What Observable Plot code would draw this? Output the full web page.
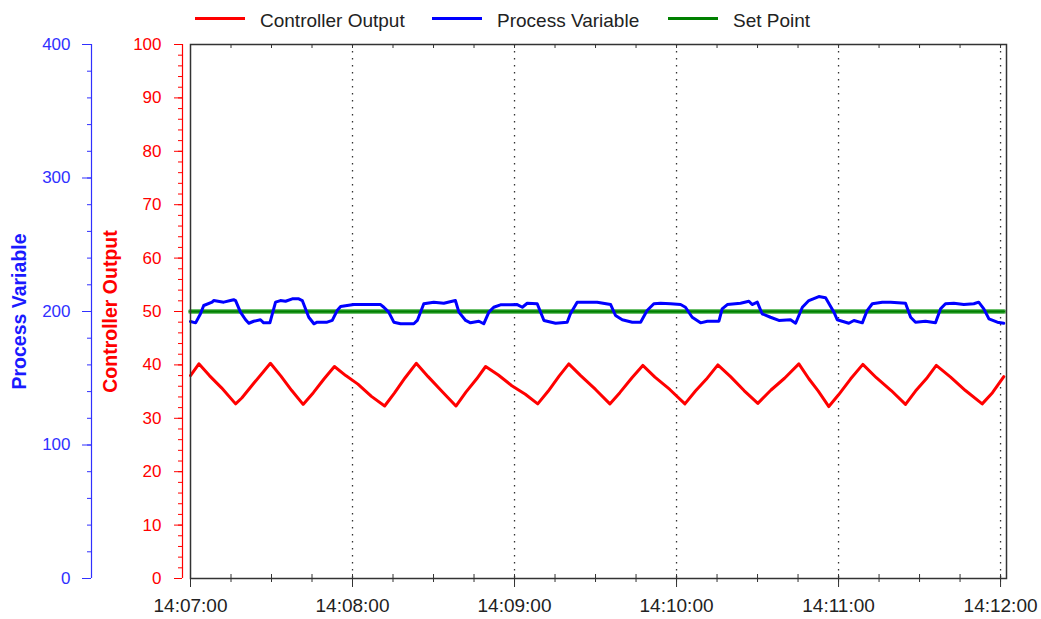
<!DOCTYPE html>
<html>
<head>
<meta charset="utf-8">
<script src="https://cdn.jsdelivr.net/npm/d3@7"></script>
<script src="https://cdn.jsdelivr.net/npm/@observablehq/plot@0.6"></script>
<style>
  html, body { margin: 0; padding: 0; background: #fff; }
  #wrap { position: relative; width: 1041px; height: 619px; font-family: "Liberation Sans", Arial, sans-serif; }
  #legend { position: absolute; left: 0; top: 0; }
  #chart { position: absolute; left: 0; top: 0; }
</style>
</head>
<body>
<div id="wrap"><div id="chart"></div><svg id="legend" width="1041" height="36"></svg></div>
<script>
// ---- Data (seconds after 14:07:00) ----
const seriesNames = ["Controller Output", "Process Variable", "Set Point"];
const seriesColors = ["#ff0000", "#0000ff", "#008000"];

const coTime = [0, 3.1, 7.0, 11.5, 16.7, 19.0, 23.5, 29.6, 33.5, 37.5, 41.7, 45.5, 49.5, 53.3, 57.5, 62.0, 67.0, 71.9,
  75.5, 79.5, 83.6, 88.0, 93.0, 98.3, 102.0, 106.0, 109.3, 114.0, 119.0, 124.0, 128.6, 132.5, 136.5, 140.1, 144.5,
  150.0, 155.3, 159.0, 163.5, 167.5, 172.0, 177.5, 183.1, 187.0, 191.0, 195.3, 200.0, 205.0, 210.1, 215.0, 220.0,
  225.3, 229.0, 232.5, 236.4, 240.0, 244.5, 249.0, 254.0, 259.5, 264.8, 268.5, 272.5, 276.2, 281.5, 287.0, 293.2,
  297.0, 301.2];
const coValue = [38.0, 40.2, 38.0, 35.7, 32.7, 33.8, 36.6, 40.3, 37.9, 35.2, 32.6, 34.8, 37.4, 39.7, 38.0, 36.4, 34.1, 32.3,
  34.7, 37.6, 40.3, 37.8, 35.1, 32.3, 34.9, 37.4, 39.7, 38.1, 36.1, 34.5, 32.7, 35.1, 37.9, 40.2, 38.0,
  35.4, 32.7, 34.8, 37.6, 39.9, 37.7, 35.4, 32.7, 35.1, 37.3, 40.0, 37.8, 35.2, 32.8, 35.3, 37.5,
  40.2, 37.4, 35.1, 32.2, 34.4, 37.4, 40.1, 37.6, 35.2, 32.6, 35.1, 37.4, 39.9, 37.7, 35.2, 32.7,
  34.8, 37.8];

const pvTime = [0, 1.9, 3.7, 4.9, 8.0, 8.6, 12.3, 14.8, 16.0, 16.7, 18.5, 20.4, 21.6, 23.4, 25.9, 27.1, 29.4, 31.5, 33.3,
  35.2, 37.7, 40.1, 41.4, 43.8, 45.7, 46.9, 50.6, 52.5, 54.3, 55.6, 58.0, 60.5, 65.4, 70.4, 71.6, 73.4, 75.3, 77.8,
  82.7, 84.0, 86.4, 90.1, 93.8, 98.1, 99.4, 101.9, 103.7, 106.8, 108.6, 110.5, 112.3, 114.8, 118.5, 121.0, 122.9,
  124.7, 128.4, 130.9, 135.2, 139.5, 140.7, 143.2, 146.9, 150.6, 155.6, 157.4, 159.9, 163.6, 166.7, 169.1, 171.6,
  174.1, 177.8, 181.5, 183.3, 185.8, 188.9, 191.4, 195.7, 196.9, 198.8, 203.7, 206.8, 208.0, 209.9, 211.7, 214.8,
  217.9, 222.2, 224.1, 226.6, 229.0, 232.7, 235.2, 238.3, 239.5, 243.8, 245.7, 248.8, 250.6, 252.5, 256.2, 259.3,
  264.8, 266.7, 268.5, 272.2, 275.9, 277.8, 279.6, 282.7, 286.4, 290.1, 291.9, 293.8, 295.7, 298.8, 301.2];
const pvValue = [192.5, 191.5, 198.3, 204.5, 207.0, 208.2, 207.0, 208.2, 208.8, 208.2, 199.5, 193.8, 191.2, 192.7, 193.8,
  191.5, 191.5, 207.0, 208.2, 207.7, 209.5, 209.5, 208.2, 195.7, 190.8, 192.0, 192.0, 193.3, 200.7, 203.7, 204.5,
  205.2, 205.2, 205.2, 203.2, 199.5, 192.0, 190.8, 190.8, 193.3, 205.8, 207.0, 206.2, 208.2, 199.5, 193.3, 191.5,
  192.7, 190.8, 199.5, 203.2, 205.0, 205.0, 205.2, 203.2, 206.2, 205.8, 193.3, 191.2, 192.0, 198.3, 207.0, 207.0,
  207.0, 205.2, 197.0, 193.8, 192.0, 192.0, 200.7, 205.8, 206.2, 205.8, 205.2, 203.2, 195.7, 191.5, 192.7, 192.7,
  202.0, 205.2, 206.2, 207.7, 205.2, 207.0, 198.3, 195.7, 193.3, 193.8, 191.2, 203.2, 208.2, 211.2, 210.3, 199.5,
  193.8, 191.2, 193.3, 191.5, 200.7, 205.8, 207.0, 207.0, 206.2, 195.7, 192.0, 192.7, 191.5, 202.0, 205.8, 206.2,
  205.2, 205.8, 207.0, 202.0, 194.5, 192.0, 191.2];

const spTime = [0, 301.2];
const spValue = [200, 200];

const xTickSeconds = [0, 60, 120, 180, 240, 300];
const xTickLabels = ["14:07:00", "14:08:00", "14:09:00", "14:10:00", "14:11:00", "14:12:00"];
const coTicks = [0, 10, 20, 30, 40, 50, 60, 70, 80, 90, 100];
const pvTicks = [0, 100, 200, 300, 400];
const coDomain = [0, 100];
const pvDomain = [0, 400];
const timeDomain = [0, 302.2];

// ---- Build ----
const factor = pvDomain[1] / coDomain[1];
const coData = coTime.map((t, i) => ({t, v: coValue[i]}));
const pvData = pvTime.map((t, i) => ({t, v: pvValue[i] / factor}));
const spData = spTime.map((t, i) => ({t, v: spValue[i] / factor}));
const xMinor = d3.range(0, 301, 15);
const coMinor = d3.range(0, 101, 2);
const pvMinor = d3.range(0, 401, 20).map(v => v / factor);
const font = '"Liberation Sans", Arial, sans-serif';
const red = "#ff0000", blue = "#3030ff";

const chart = Plot.plot({
  width: 1041, height: 619,
  marginLeft: 190, marginRight: 35, marginTop: 44, marginBottom: 41,
  style: {fontFamily: font, background: "transparent", overflow: "visible"},
  x: {domain: timeDomain, axis: null},
  y: {domain: coDomain, axis: null},
  marks: [
    Plot.ruleX(xTickSeconds.slice(1), {stroke: "#333", strokeDasharray: "1.5 5.5", strokeWidth: 1.3}),
    Plot.line(spData, {x: "t", y: "v", stroke: "#6cc06c", strokeWidth: 5}),
    Plot.line(spData, {x: "t", y: "v", stroke: seriesColors[2], strokeWidth: 2.5}),
    Plot.line(pvData, {x: "t", y: "v", stroke: seriesColors[1], strokeWidth: 3, strokeLinejoin: "round"}),
    Plot.line(coData, {x: "t", y: "v", stroke: seriesColors[0], strokeWidth: 3, strokeLinejoin: "round"}),
    Plot.frame({stroke: "#333", strokeWidth: 1.5}),
    // top inner minor ticks
    Plot.axisX({anchor: "top", ticks: xMinor, tickSize: 3, dy: 3, tickFormat: () => "", stroke: "#333", label: null}),
    // bottom axis ticks and labels
    Plot.axisX({ticks: xMinor, tickSize: 8, dy: -4, tickFormat: () => "", stroke: "#333", label: null}),
    Plot.axisX({ticks: xTickSeconds, tickSize: 12, dy: -3, tickFormat: () => "", stroke: "#333", label: null}),
    Plot.axisX({ticks: xTickSeconds, tickSize: 0, tickPadding: 20, fontSize: 19, fill: "#222",
      tickFormat: d => xTickLabels[xTickSeconds.indexOf(d)], label: null}),
    // Controller Output axis (red)
    Plot.ruleX([0], {dx: -8, stroke: red, strokeWidth: 1.2}),
    Plot.axisY({ticks: coMinor, tickSize: 4, dx: -8, tickFormat: () => "", stroke: red, label: null}),
    Plot.axisY({ticks: coTicks, tickSize: 8, dx: -8, tickPadding: 13, fontSize: 17, stroke: red, fill: red, label: null}),
    // Process Variable axis (blue)
    Plot.ruleX([0], {dx: -99, stroke: blue, strokeWidth: 1.2}),
    Plot.axisY({ticks: pvMinor, tickSize: 4, dx: -99, tickFormat: () => "", stroke: blue, label: null}),
    Plot.axisY({ticks: pvTicks.map(v => v / factor), tickSize: 9, dx: -99, tickPadding: 12, fontSize: 17,
      stroke: blue, fill: blue, tickFormat: d => String(Math.round(d * factor)), label: null}),
    // axis titles
    Plot.text([seriesNames[1]], {frameAnchor: "left", textAnchor: "middle", dx: -170.5, rotate: -90, fill: "#1a1aff",
      fontWeight: "bold", fontSize: 19.5, text: d => d}),
    Plot.text([seriesNames[0]], {frameAnchor: "left", textAnchor: "middle", dx: -79.5, rotate: -90, fill: red,
      fontWeight: "bold", fontSize: 19.5, text: d => d})
  ]
});
document.getElementById("chart").appendChild(chart);

// ---- Legend ----
const legendX = [195, 432, 668];
const lg = d3.select("#legend");
seriesNames.forEach((name, i) => {
  lg.append("line").attr("x1", legendX[i]).attr("x2", legendX[i] + 50).attr("y1", 18.5).attr("y2", 18.5)
    .attr("stroke", seriesColors[i]).attr("stroke-width", 3);
  lg.append("text").attr("x", legendX[i] + 65).attr("y", 26.5).attr("fill", "#222")
    .attr("font-family", font).attr("font-size", 19).text(name);
});
</script>
</body>
</html>
